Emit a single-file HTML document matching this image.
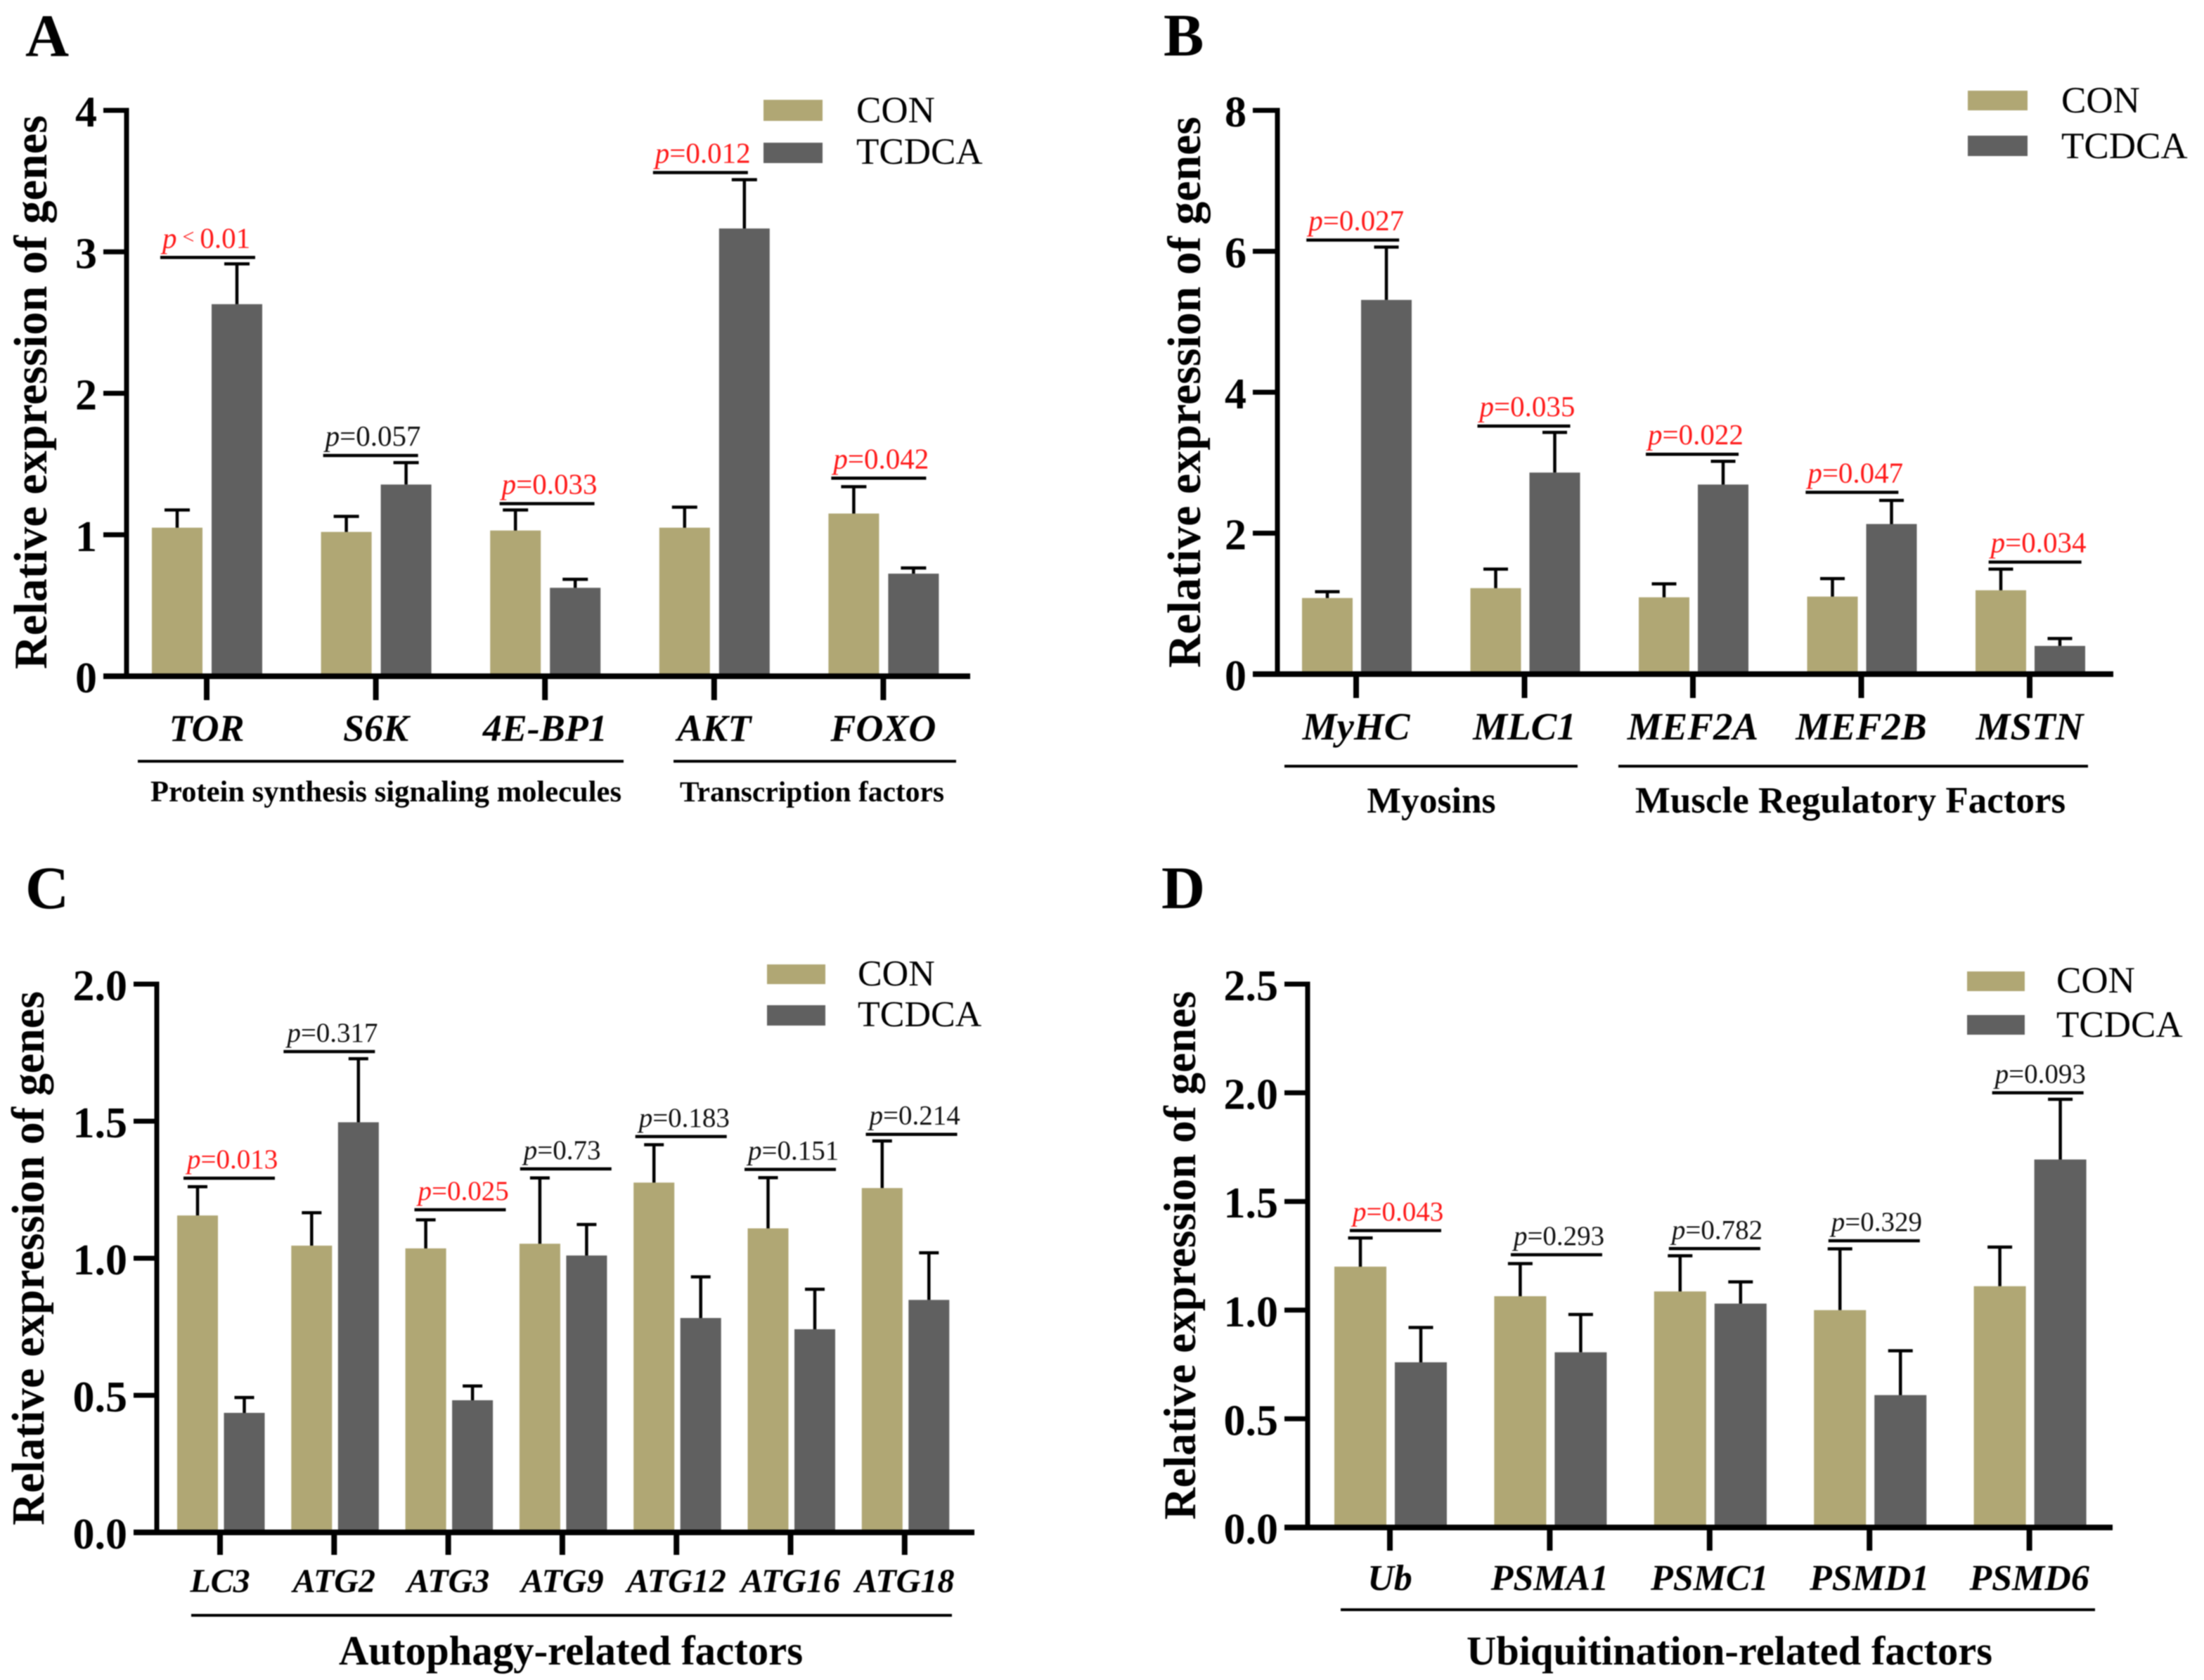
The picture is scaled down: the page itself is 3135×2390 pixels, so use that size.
<!DOCTYPE html>
<html lang="en">
<head>
<meta charset="utf-8">
<title>Relative expression of genes, CON vs TCDCA</title>
<style>
html,body{margin:0;padding:0;background:#fff;}
svg{display:block;filter:blur(0.7px);}
text{font-family:"Liberation Serif","Times New Roman",serif;fill:#000;}
.b{font-weight:bold;}
</style>
</head>
<body>
<svg id="figure" xmlns="http://www.w3.org/2000/svg" width="3135" height="2390" viewBox="0 0 3135 2390">
  <rect x="0" y="0" width="3135" height="2390" fill="#fff"/>

  <g id="panel-a">
    <text class="b" x="36" y="80" font-size="86">A</text>
    <text class="b" font-size="67" transform="translate(66,952) rotate(-90)" textLength="788" lengthAdjust="spacingAndGlyphs">Relative expression of genes</text>
    <rect x="1086" y="142" width="84" height="30" fill="#b0a774"/>
    <text x="1218" y="174" font-size="53">CON</text>
    <rect x="1086" y="203" width="84" height="29" fill="#606060"/>
    <text x="1218" y="233" font-size="53">TCDCA</text>
    <line x1="196" x2="887" y1="1083" y2="1083" stroke="#000" stroke-width="4"/>
    <line x1="958" x2="1360" y1="1083" y2="1083" stroke="#000" stroke-width="4"/>
    <text class="b" x="549" y="1140" font-size="42.6" text-anchor="middle">Protein synthesis signaling molecules</text>
    <text class="b" x="1155" y="1140" font-size="41.5" text-anchor="middle">Transcription factors</text>
  </g>

  <g id="panel-b">
    <text class="b" x="1655" y="79" font-size="86">B</text>
    <text class="b" font-size="67" transform="translate(1707,950) rotate(-90)" textLength="784" lengthAdjust="spacingAndGlyphs">Relative expression of genes</text>
    <rect x="2799" y="129" width="85" height="28" fill="#b0a774"/>
    <text x="2932" y="160" font-size="53">CON</text>
    <rect x="2799" y="193" width="85" height="29" fill="#606060"/>
    <text x="2932" y="225" font-size="53">TCDCA</text>
    <line x1="1827" x2="2244" y1="1090" y2="1090" stroke="#000" stroke-width="4"/>
    <line x1="2302" x2="2970" y1="1090" y2="1090" stroke="#000" stroke-width="4"/>
    <text class="b" x="2036" y="1156" font-size="51.5" text-anchor="middle">Myosins</text>
    <text class="b" x="2632" y="1156" font-size="53" text-anchor="middle">Muscle Regulatory Factors</text>
  </g>

  <g id="panel-c">
    <text class="b" x="36" y="1292" font-size="86">C</text>
    <text class="b" font-size="66" transform="translate(62,2170) rotate(-90)" textLength="760" lengthAdjust="spacingAndGlyphs">Relative expression of genes</text>
    <rect x="1091" y="1372" width="83" height="28" fill="#b0a774"/>
    <text x="1220" y="1402" font-size="52">CON</text>
    <rect x="1091" y="1430" width="83" height="29" fill="#606060"/>
    <text x="1220" y="1460" font-size="52">TCDCA</text>
    <line x1="272" x2="1354" y1="2298" y2="2298" stroke="#000" stroke-width="4"/>
    <text class="b" x="812" y="2368" font-size="58.8" text-anchor="middle">Autophagy-related factors</text>
  </g>

  <g id="panel-d">
    <text class="b" x="1652" y="1292" font-size="86">D</text>
    <text class="b" font-size="65" transform="translate(1700,2162) rotate(-90)" textLength="752" lengthAdjust="spacingAndGlyphs">Relative expression of genes</text>
    <rect x="2798" y="1382" width="82" height="28" fill="#b0a774"/>
    <text x="2925" y="1412" font-size="53">CON</text>
    <rect x="2798" y="1444" width="82" height="28" fill="#606060"/>
    <text x="2925" y="1475" font-size="53">TCDCA</text>
    <line x1="1907" x2="2980" y1="2290" y2="2290" stroke="#000" stroke-width="4"/>
    <text class="b" x="2460" y="2368" font-size="58.5" text-anchor="middle">Ubiquitination-related factors</text>
  </g>
</svg>

<script>
// ---- Panel A data ----
const aCategories = ['TOR','S6K','4E-BP1','AKT','FOXO'];
const aCon = [1.05,1.02,1.03,1.05,1.15];
const aConErr = [0.125,0.11,0.145,0.145,0.19];
const aTcdca = [2.63,1.355,0.625,3.165,0.725];
const aTcdcaErr = [0.285,0.155,0.06,0.345,0.04];
const aPValues = ['<0.01','=0.057','=0.033','=0.012','=0.042'];
const aBracketLevel = [2.96,1.56,1.22,3.56,1.40];
const aBracketShift = [0.006,-0.031,0.012,-0.081,-0.027];
const aTicks = [0,1,2,3,4];
const aTickLabels = ['0','1','2','3','4'];

// ---- Panel B data ----
const bCategories = ['MyHC','MLC1','MEF2A','MEF2B','MSTN'];
const bCon = [1.08,1.22,1.09,1.10,1.19];
const bConErr = [0.09,0.27,0.19,0.255,0.30];
const bTcdca = [5.31,2.86,2.69,2.13,0.40];
const bTcdcaErr = [0.75,0.57,0.33,0.335,0.105];
const bPValues = ['=0.027','=0.035','=0.022','=0.047','=0.034'];
const bBracketLevel = [6.16,3.52,3.12,2.58,1.59];
const bBracketShift = [-0.02,-0.004,-0.004,-0.055,0.032];
const bTicks = [0,2,4,6,8];
const bTickLabels = ['0','2','4','6','8'];

// ---- Panel C data ----
const cCategories = ['LC3','ATG2','ATG3','ATG9','ATG12','ATG16','ATG18'];
const cCon = [1.156,1.046,1.036,1.053,1.276,1.109,1.256];
const cConErr = [0.105,0.12,0.104,0.24,0.138,0.185,0.172];
const cTcdca = [0.436,1.496,0.482,1.01,0.782,0.741,0.848];
const cTcdcaErr = [0.056,0.232,0.052,0.113,0.15,0.146,0.172];
const cPValues = ['=0.013','=0.317','=0.025','=0.73','=0.183','=0.151','=0.214'];
const cBracketLevel = [1.292,1.754,1.177,1.326,1.444,1.324,1.452];
const cBracketShift = [0.08,-0.043,0.104,0.03,0.04,-0.003,0.06];
const cTicks = [0,0.5,1,1.5,2];
const cTickLabels = ['0.0','0.5','1.0','1.5','2.0'];

// ---- Panel D data ----
const dCategories = ['Ub','PSMA1','PSMC1','PSMD1','PSMD6'];
const dCon = [1.20,1.064,1.086,1.0,1.11];
const dConErr = [0.132,0.15,0.164,0.282,0.18];
const dTcdca = [0.76,0.806,1.03,0.609,1.693];
const dTcdcaErr = [0.16,0.174,0.10,0.204,0.277];
const dPValues = ['=0.043','=0.293','=0.782','=0.329','=0.093'];
const dBracketLevel = [1.366,1.255,1.283,1.319,2.0];
const dBracketShift = [0.035,0.042,0.031,0.029,0.053];
const dTicks = [0,0.5,1,1.5,2,2.5];
const dTickLabels = ['0.0','0.5','1.0','1.5','2.0','2.5'];

const CON_COLOR = '#b0a774';
const TCDCA_COLOR = '#606060';
const NS = 'http://www.w3.org/2000/svg';

function make(tag, attrs, parent) {
  const el = document.createElementNS(NS, tag);
  for (const k in attrs) el.setAttribute(k, attrs[k]);
  parent.appendChild(el);
  return el;
}

function drawPanel(p) {
  const root = document.getElementById(p.id);
  const yMax = p.ticks[p.ticks.length - 1];
  const yScale = v => p.y0 - (v / yMax) * (p.y0 - p.yTop);
  const xScale = i => p.xStart + i * p.xStep;

  p.categories.forEach((cat, i) => {
    const cx = xScale(i);

    const conBar = make('rect', {x: cx + p.conOff - p.barW / 2, y: yScale(p.con[i]), width: p.barW, height: p.y0 - yScale(p.con[i]), fill: CON_COLOR}, root);
    
    

    const tcdBar = make('rect', {x: cx + p.tcdOff - p.barW / 2, y: yScale(p.tcdca[i]), width: p.barW, height: p.y0 - yScale(p.tcdca[i]), fill: TCDCA_COLOR}, root);
    
    

    [[p.con, p.conErr, p.conOff, 'con'], [p.tcdca, p.tcdcaErr, p.tcdOff, 'tcdca']].forEach(s => {
      const ex = cx + s[2];
      const top = yScale(s[0][i] + s[1][i]);
      const base = yScale(s[0][i]);
      const err = make('path', {d: 'M' + ex + ' ' + base + 'V' + top + 'M' + (ex - p.cap / 2) + ' ' + top + 'H' + (ex + p.cap / 2), stroke: '#000', 'stroke-width': 4.5, fill: 'none'}, root);
      
      
    });

    const tick = make('line', {x1: cx, x2: cx, y1: p.y0, y2: p.y0 + p.tickLen, stroke: '#000', 'stroke-width': 8}, root);
    
    

    const label = make('text', {x: cx, y: p.catBase, 'font-size': p.catSize, 'font-weight': 'bold', 'font-style': 'italic', 'text-anchor': 'middle'}, root);
    label.textContent = cat;
    
    

    const bx = cx + p.bracketShift[i] * p.xStep;
    const by = yScale(p.bracketLevel[i]);
    const bracket = make('line', {x1: bx - p.bracketHalf, x2: bx + p.bracketHalf, y1: by, y2: by, stroke: '#000', 'stroke-width': 4.5}, root);
    
    

    const rest = p.pValues[i];
    const numeric = parseFloat(rest.slice(1));
    const color = numeric < 0.05 ? '#ff1a1a' : '#111';
    const pText = make('text', {x: bx - p.bracketHalf + p.pInset, y: by - 14, 'font-size': p.pSize}, root);
    
    
    pText.style.fill = color;
    const pItalic = make('tspan', {'font-style': 'italic'}, pText);
    pItalic.textContent = 'p';
    pItalic.style.fill = color;
    if (rest[0] === '<') {
      const lt = make('tspan', {'font-size': 30, dx: 8, dy: -6}, pText);
      lt.textContent = '<';
      lt.style.fill = color;
      const num = make('tspan', {dx: 8, dy: 6}, pText);
      num.textContent = rest.slice(1);
      num.style.fill = color;
    } else {
      const num = make('tspan', {}, pText);
      num.textContent = rest;
      num.style.fill = color;
    }
  });

  p.ticks.forEach((t, i) => {
    const y = yScale(t);
    const tick = make('line', {x1: p.tickLeft, x2: p.axisX, y1: y, y2: y, stroke: '#000', 'stroke-width': 7}, root);
    
    

    const label = make('text', {x: p.tickLeft - 9, y: y + 23, 'font-size': 62, 'font-weight': 'bold', 'text-anchor': 'end'}, root);
    label.textContent = p.tickLabels[i];
    
    
  });

  const yAxis = make('line', {x1: p.axisX, x2: p.axisX, y1: p.yTop - 3.5, y2: p.y0, stroke: '#000', 'stroke-width': 7}, root);
  
  

  const xAxis = make('line', {x1: p.tickLeft, x2: p.xEnd, y1: p.y0, y2: p.y0, stroke: '#000', 'stroke-width': 8}, root);
  
  
}

drawPanel({id: 'panel-a', categories: aCategories, con: aCon, conErr: aConErr, tcdca: aTcdca, tcdcaErr: aTcdcaErr,
  pValues: aPValues, bracketLevel: aBracketLevel, bracketShift: aBracketShift, ticks: aTicks, tickLabels: aTickLabels,
  axisX: 180, yTop: 157, y0: 962, xEnd: 1380, tickLeft: 147, xStart: 294, xStep: 240.6, barW: 72, conOff: -42, tcdOff: 43,
  cap: 36, tickLen: 34, catBase: 1054, catSize: 54, bracketHalf: 67.5, pSize: 41, pInset: 3});

drawPanel({id: 'panel-b', categories: bCategories, con: bCon, conErr: bConErr, tcdca: bTcdca, tcdcaErr: bTcdcaErr,
  pValues: bPValues, bracketLevel: bBracketLevel, bracketShift: bBracketShift, ticks: bTicks, tickLabels: bTickLabels,
  axisX: 1817, yTop: 157, y0: 959, xEnd: 3006, tickLeft: 1782, xStart: 1929, xStep: 239.5, barW: 72, conOff: -41, tcdOff: 43,
  cap: 35, tickLen: 34, catBase: 1052, catSize: 55, bracketHalf: 66, pSize: 41, pInset: 3});

drawPanel({id: 'panel-c', categories: cCategories, con: cCon, conErr: cConErr, tcdca: cTcdca, tcdcaErr: cTcdcaErr,
  pValues: cPValues, bracketLevel: cBracketLevel, bracketShift: cBracketShift, ticks: cTicks, tickLabels: cTickLabels,
  axisX: 223, yTop: 1400, y0: 2180, xEnd: 1386, tickLeft: 190, xStart: 313, xStep: 162.3, barW: 58, conOff: -32, tcdOff: 34.5,
  cap: 28, tickLen: 32, catBase: 2265, catSize: 48, bracketHalf: 65, pSize: 39, pInset: 5});

drawPanel({id: 'panel-d', categories: dCategories, con: dCon, conErr: dConErr, tcdca: dTcdca, tcdcaErr: dTcdcaErr,
  pValues: dPValues, bracketLevel: dBracketLevel, bracketShift: dBracketShift, ticks: dTicks, tickLabels: dTickLabels,
  axisX: 1860, yTop: 1400, y0: 2173, xEnd: 3005, tickLeft: 1827, xStart: 1977, xStep: 227.4, barW: 74, conOff: -42, tcdOff: 44,
  cap: 35, tickLen: 33, catBase: 2262, catSize: 52, bracketHalf: 65, pSize: 39, pInset: 4});
</script>
</body>
</html>
